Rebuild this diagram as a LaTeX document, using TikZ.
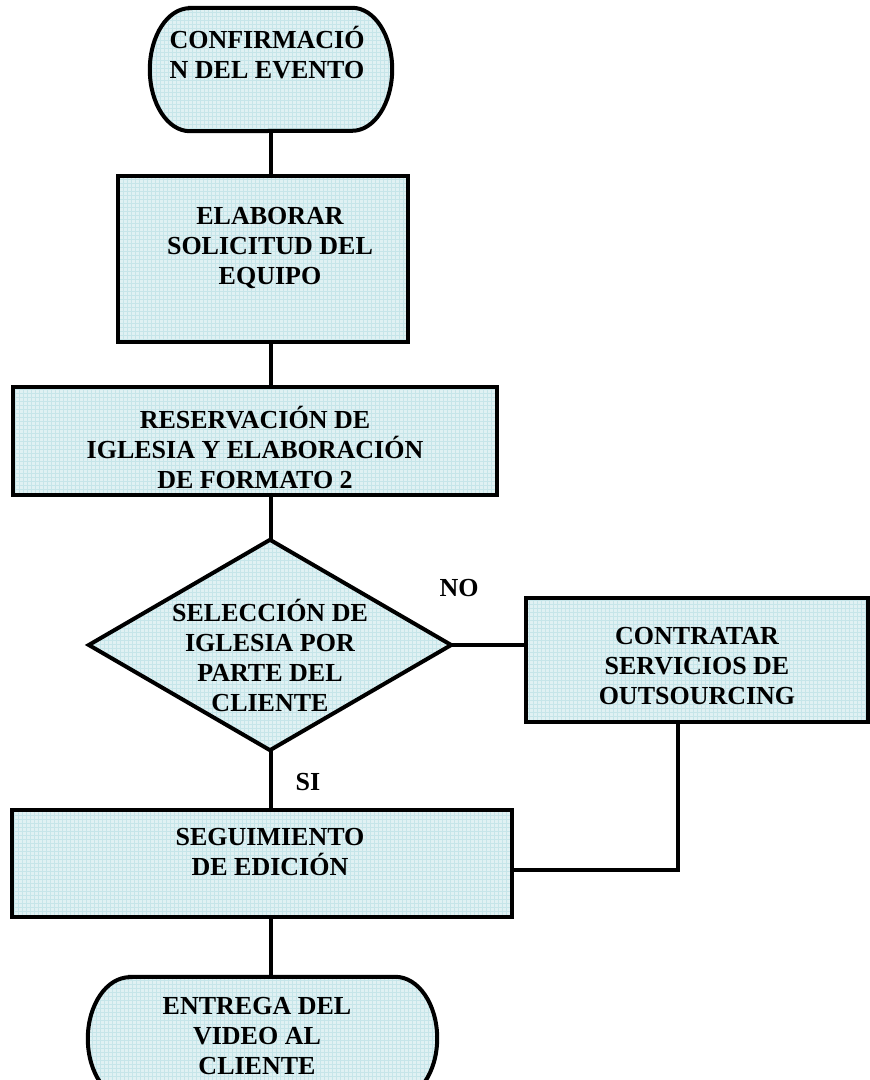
\documentclass[tikz,border=0pt]{standalone}
\usepackage{fontspec}
\setmainfont{Liberation Serif}
\usetikzlibrary{calc}

\definecolor{boxfill}{RGB}{224,241,243}
\definecolor{boxgrid}{RGB}{198,229,233}

\tikzset{
  lbl/.style={font=\fontsize{26}{30}\selectfont\bfseries, align=center, inner sep=0pt, text=black},
  shell/.style={draw=none, fill=none, inner sep=0pt},
  textured/.style={fill=boxfill,
    path picture={\draw[boxgrid, line width=0.45pt]
      (path picture bounding box.south west) grid[step=4pt]
      (path picture bounding box.north east);}},
  outline/.style={textured, draw=black, line width=4pt, line join=miter},
  link/.style={draw=black, line width=3.2pt},
}

\begin{document}
\begin{tikzpicture}[x=1pt, y=1pt]
  \useasboundingbox (0,0) rectangle (870,1080);
  \clip (0,0) rectangle (870,1080);

  % the common vertical axis of the main flow
  \coordinate (spine) at (271,0);

  % ---- start terminal ----
  \node[shell, minimum width=242, minimum height=123] (start) at (271,1010.5) {};
  \path[outline] ([xshift=40]start.north west) -- ([xshift=-40]start.north east)
    arc[start angle=90, end angle=-90, x radius=40, y radius=61.5]
    -- ([xshift=40]start.south west)
    arc[start angle=270, end angle=90, x radius=40, y radius=61.5] -- cycle;
  \node[lbl] (startT) at (267,1027) {CONFIRMACIÓ\\N DEL EVENTO};

  % ---- process boxes ----
  \node[outline, minimum width=290, minimum height=166] (solic) at (263,821) {};
  \node[lbl] (solicT) at (270,832) {ELABORAR\\SOLICITUD DEL\\EQUIPO};

  \node[outline, minimum width=484, minimum height=108] (reserv) at (255,639) {};
  \node[lbl] (reservT) at (255,633) {RESERVACIÓN DE\\IGLESIA Y ELABORACIÓN\\DE FORMATO 2};

  % ---- decision ----
  \node[shell, minimum width=362, minimum height=210] (decis) at (270,435) {};
  \path[outline] (decis.north) -- (decis.east) -- (decis.south) -- (decis.west) -- cycle;
  \node[lbl] (decisT) at (270,425) {SELECCIÓN DE\\IGLESIA POR\\PARTE DEL\\CLIENTE};

  \node[outline, minimum width=342, minimum height=124] (outs) at (697,420) {};
  \node[lbl] (outsT) at (697,414) {CONTRATAR\\SERVICIOS DE\\OUTSOURCING};

  \node[outline, minimum width=500, minimum height=107] (segui) at (262,216.5) {};
  \node[lbl] (seguiT) at (270,228) {SEGUIMIENTO\\DE EDICIÓN};

  % ---- end terminal ----
  \node[shell, minimum width=349, minimum height=123] (fin) at (262.5,41.5) {};
  \path[outline] ([xshift=42]fin.north west) -- ([xshift=-42]fin.north east)
    arc[start angle=90, end angle=-90, x radius=42, y radius=61.5]
    -- ([xshift=42]fin.south west)
    arc[start angle=270, end angle=90, x radius=42, y radius=61.5] -- cycle;
  \node[lbl] (finT) at (257,43.5) {ENTREGA DEL\\VIDEO AL\\CLIENTE};

  % ---- branch labels ----
  \node[lbl] (no) at (459,492) {NO};
  \node[lbl] (si) at (308,298) {SI};

  % ---- connectors ----
  \draw[link] (start.south -| spine) -- (solic.north -| spine);
  \draw[link] (solic.south -| spine) -- (reserv.north -| spine);
  \draw[link] (reserv.south -| spine) -- (decis.north -| spine);
  \draw[link] (decis.east) -- (decis.east -| outs.west);
  \draw[link] (decis.south -| spine) -- (segui.north -| spine);
  \coordinate (drop) at (678,210);
  \draw[link] (outs.south -| drop) -- (drop) -- (segui.east |- drop);
  \draw[link] (segui.south -| spine) -- (fin.north -| spine);
\end{tikzpicture}
\end{document}
